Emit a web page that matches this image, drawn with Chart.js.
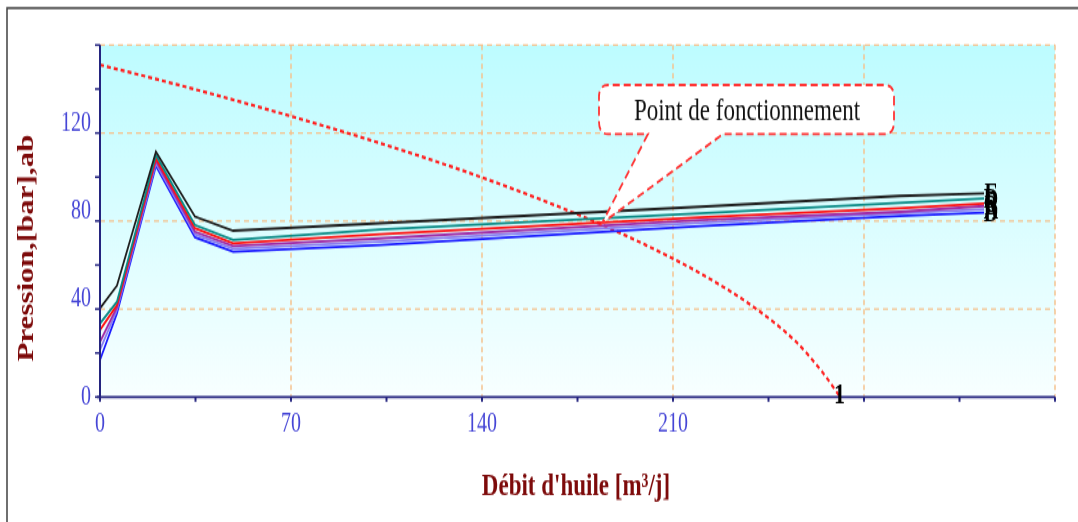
<!DOCTYPE html>
<html><head><meta charset="utf-8">
<script src="https://cdn.jsdelivr.net/npm/chart.js@4.4.1/dist/chart.umd.min.js"></script>
<style>
html,body{margin:0;padding:0;background:#fff;overflow:hidden;width:1078px;height:522px;}
#wrap{width:1078px;height:387px;transform:scaleY(1.3488372);transform-origin:0 0;}
canvas{display:block;}
</style></head><body>
<div id="wrap"><canvas id="c" width="1078" height="387"></canvas></div>
<script>
const S = 522 / 387;

// ---- data ----
const pumpFlow = [0, 6.2, 20.5, 34.8, 48.8, 102.6, 220, 293, 324];
const curveBlack  = [40.3, 50.6, 111.5, 82.0, 75.6, 79.0, 86.5, 91.4, 92.6];
const curveTeal   = [33.4, 43.3, 110.0, 78.2, 71.4, 76.2, 83.5, 88.3, 90.3];
const curveRed    = [30.5, 41.8, 108.5, 76.7, 69.9, 74.0, 81.7, 85.8, 88.0];
const curvePurple = [25.1, 40.8, 107.4, 75.1, 68.6, 72.1, 80.5, 84.2, 86.8];
const curveViolet = [21.4, 39.5, 106.2, 74.0, 67.4, 70.6, 79.2, 83.5, 85.3];
const curveBlue   = [16.8, 38.0, 105.0, 72.6, 66.0, 69.1, 77.7, 82.3, 83.8];
const curveLabels = ["E", "D", "C", "B", "A", "D"];

const iprFlow     = [0, 20, 40, 60, 80, 100, 120, 140, 160, 180, 200, 220, 240, 255, 265, 271];
const iprPressure = [151, 144.7, 138.1, 131.2, 124, 116.4, 108.4, 99.8, 90.5, 80.4, 69.1, 56.2, 40.5, 25.2, 10.9, 0.5];
const iprLabel = "1";

const operatingPoint = { x: 184, y: 79 };
const calloutText = "Point de fonctionnement";
const xTitle = "Débit d'huile [m³/j]";
const yTitle = "Pression,[bar],ab";
const xTickLabels = [0, 70, 140, 210];
const yTickLabels = [0, 40, 80, 120];

const toPts = (xs, ys) => xs.map((v, i) => ({ x: v, y: ys[i] }));

const pumpSeries = [
  { data: curveBlack,  color: '#1e1e1e' },
  { data: curveTeal,   color: '#0a8a86' },
  { data: curveRed,    color: '#ff1010' },
  { data: curvePurple, color: '#a02aa6' },
  { data: curveViolet, color: '#8a7cf0' },
  { data: curveBlue,   color: '#1a1aff' }
];

const datasets = pumpSeries.map((s, i) => ({
  label: curveLabels[i],
  data: toPts(pumpFlow, s.data),
  showLine: true, borderColor: s.color, borderWidth: 1.8,
  pointRadius: 0, fill: false, tension: 0
}));
datasets.push({
  label: 'IPR',
  data: toPts(iprFlow, iprPressure),
  showLine: true, borderColor: '#ff2222', borderWidth: 2.2,
  borderDash: [4, 3], pointRadius: 0, fill: false, tension: 0.3, cubicInterpolationMode: 'monotone'
});

const serif = "'Liberation Serif', 'Times New Roman', serif";

const bgPlugin = {
  id: 'bg',
  beforeDraw(chart) {
    const { ctx, chartArea: a, scales: { x, y } } = chart;
    ctx.save();
    // outer frame
    ctx.strokeStyle = '#404040'; ctx.lineWidth = 1.5;
    ctx.beginPath(); ctx.moveTo(7, 387); ctx.lineTo(7, 8 / S); ctx.lineTo(1078, 8 / S); ctx.stroke();
    // plot background
    const g = ctx.createLinearGradient(0, a.top, 0, a.bottom);
    g.addColorStop(0, '#bdfcff'); g.addColorStop(1, '#f8ffff');
    ctx.fillStyle = g; ctx.fillRect(a.left, a.top, a.right - a.left, a.bottom - a.top);
    // grid
    ctx.strokeStyle = '#f5c28e'; ctx.lineWidth = 1.3;
    ctx.setLineDash([5, 4]);
    y.ticks.forEach(t => {
      if (t.value > 0 && t.value % 40 === 0) {
        const py = y.getPixelForValue(t.value);
        ctx.beginPath(); ctx.moveTo(a.left, py); ctx.lineTo(a.right, py); ctx.stroke();
      }
    });
    ctx.setLineDash([4, 3]); ctx.lineWidth = 1.5;
    x.ticks.forEach(t => {
      if (t.value > 0 && t.value % 70 === 0) {
        const px = x.getPixelForValue(t.value);
        ctx.beginPath(); ctx.moveTo(px, a.top); ctx.lineTo(px, a.bottom); ctx.stroke();
      }
    });
    ctx.restore();
  }
};

function stretchedText(ctx, text, cx, cy, font, color, rotate) {
  ctx.save();
  ctx.translate(cx, cy);
  if (rotate) ctx.rotate(-Math.PI / 2);
  ctx.font = font; ctx.fillStyle = color;
  ctx.textAlign = 'center'; ctx.textBaseline = 'middle';
  ctx.fillText(text, 0, 0);
  ctx.restore();
}

const fgPlugin = {
  id: 'fg',
  afterDatasetsDraw(chart) {
    const { ctx, chartArea: a, scales: { x, y } } = chart;
    ctx.save();
    // axes
    ctx.strokeStyle = '#24247f'; ctx.setLineDash([]);
    ctx.lineWidth = 2;
    ctx.beginPath(); ctx.moveTo(a.left, a.top); ctx.lineTo(a.left, a.bottom + 1); ctx.stroke();
    ctx.lineWidth = 1.6;
    ctx.beginPath(); ctx.moveTo(a.left - 3, a.bottom); ctx.lineTo(a.right, a.bottom); ctx.stroke();
    ctx.lineWidth = 1.5;
    y.ticks.forEach(t => {
      const py = y.getPixelForValue(t.value);
      ctx.beginPath(); ctx.moveTo(a.left - 5, py); ctx.lineTo(a.left, py); ctx.stroke();
    });
    ctx.lineWidth = 2;
    x.ticks.forEach(t => {
      const px = x.getPixelForValue(t.value);
      ctx.beginPath(); ctx.moveTo(px, a.bottom); ctx.lineTo(px, a.bottom + 3.5); ctx.stroke();
    });

    // callout
    const tipX = x.getPixelForValue(operatingPoint.x), tipY = y.getPixelForValue(operatingPoint.y);
    const L = 599, R = 894, T = 85 / S, B = 134 / S, r = 9, b1 = 648, b2 = 723;
    ctx.beginPath();
    ctx.moveTo(b1, B);
    ctx.lineTo(tipX, tipY);
    ctx.lineTo(b2, B);
    ctx.lineTo(R - r, B); ctx.quadraticCurveTo(R, B, R, B - r);
    ctx.lineTo(R, T + r); ctx.quadraticCurveTo(R, T, R - r, T);
    ctx.lineTo(L + r, T); ctx.quadraticCurveTo(L, T, L, T + r);
    ctx.lineTo(L, B - r); ctx.quadraticCurveTo(L, B, L + r, B);
    ctx.closePath();
    ctx.fillStyle = '#ffffff'; ctx.fill();
    ctx.setLineDash([7, 4]); ctx.strokeStyle = '#ff3535'; ctx.lineWidth = 1.8;
    ctx.stroke();
    ctx.setLineDash([]);
    stretchedText(ctx, calloutText, 747, 112 / S, "23px " + serif, '#111', false);

    // end labels
    const lastIdx = pumpFlow.length - 1;
    pumpSeries.forEach((s, i) => {
      const px = x.getPixelForValue(pumpFlow[lastIdx]) + 7;
      const py = y.getPixelForValue(s.data[lastIdx]) + 1.5;
      stretchedText(ctx, curveLabels[i], px, py, "bold 20px " + serif, '#000', false);
    });
    const li = iprFlow.length - 1;
    stretchedText(ctx, iprLabel, x.getPixelForValue(iprFlow[li]), y.getPixelForValue(iprPressure[li]), "bold 22px " + serif, '#000', false);

    // axis titles
    stretchedText(ctx, xTitle, 576, 487 / S, "bold 23px " + serif, '#7d0a0a', false);
    stretchedText(ctx, yTitle, 27, 248 / S, "bold 23px " + serif, '#7d0a0a', true);
    ctx.restore();
  }
};

new Chart(document.getElementById('c').getContext('2d'), {
  type: 'scatter',
  data: { datasets },
  options: {
    responsive: false, animation: false, devicePixelRatio: 1, events: [],
    layout: { padding: { left: 0, right: 23, top: 45 / S, bottom: 0 } },
    plugins: { legend: { display: false }, tooltip: { enabled: false } },
    scales: {
      x: {
        type: 'linear', min: 0, max: 350,
        grid: { display: false, drawTicks: false }, border: { display: false },
        ticks: {
          stepSize: 35, autoSkip: false, maxRotation: 0, padding: 8, color: '#4646d6',
          font: { family: serif, size: 20 },
          callback: v => xTickLabels.includes(v) ? String(v) : ''
        },
        afterFit: s => { s.height = 387 - 397 / S; }
      },
      y: {
        type: 'linear', min: 0, max: 160,
        grid: { display: false, drawTicks: false }, border: { display: false },
        ticks: {
          stepSize: 20, autoSkip: false, padding: 9, color: '#4646d6',
          font: { family: serif, size: 20, lineHeight: 0.7 },
          callback: v => yTickLabels.includes(v) ? (v === 0 ? '0' : [String(v), '']) : ''
        },
        afterFit: s => { s.width = 100; }
      }
    }
  },
  plugins: [bgPlugin, fgPlugin]
});
</script>
</body></html>
